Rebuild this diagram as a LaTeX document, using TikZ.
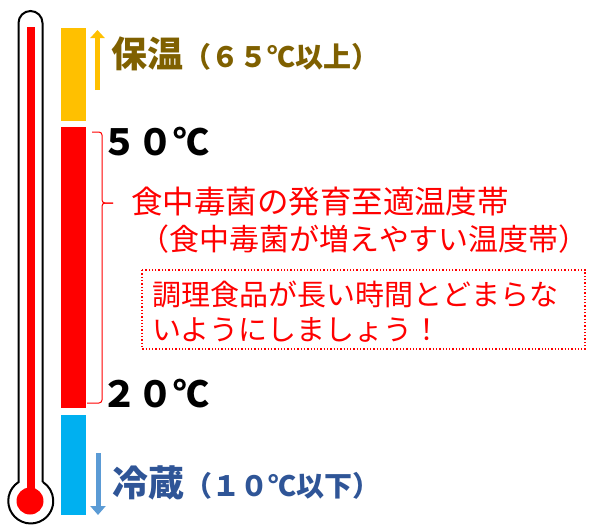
\documentclass[tikz,border=0pt]{standalone}
\usepackage{fontspec}
\newfontfamily\jp{Noto Sans CJK JP}
\usetikzlibrary{arrows.meta}
\definecolor{cyel}{HTML}{FFC000}
\definecolor{cred}{HTML}{FF0000}
\definecolor{cblue}{HTML}{00B0F0}
\definecolor{carrowblue}{HTML}{5B9BD5}
\definecolor{cbrown}{HTML}{7F6000}
\definecolor{cdarkblue}{HTML}{2F5597}
\begin{document}
\begin{tikzpicture}[x=1pt,y=-1pt,
  txt/.style={inner sep=0pt,outer sep=0pt,anchor=base west,font=\jp},
  tube/.style={draw=black,line width=2pt},
  bracestyle/.style={draw=cred,line width=1pt,rounded corners=3pt}
]
\useasboundingbox (0,0) rectangle (592,525);
% thermometer
\fill[cred] (27,27) rectangle (35,495);
\fill[cred] (30,501) circle[radius=13.5];
\draw[tube] (42.5,482.1) -- (42.5,23) arc[start angle=360,end angle=180,radius=12] -- (18.5,482.1)
  arc[start angle=237,end angle=-57,radius=22.5];
% bars
\fill[cyel] (61,28) rectangle (86,121);
\fill[cred] (61,127) rectangle (86,408);
\fill[cblue] (61,415) rectangle (86,515);
% arrows
\coordinate (ya) at (97.5,90);
\coordinate (yb) at (97.5,30);
\draw[cyel,line width=5pt,-{Triangle[length=8pt,width=14pt]}] (ya) -- (yb);
\coordinate (ba) at (98,453);
\coordinate (bb) at (98,515);
\draw[carrowblue,line width=5pt,-{Triangle[length=9pt,width=15pt]}] (ba) -- (bb);
% labels
\node[txt,text=cbrown] (hot) at (111,67.5) {\bfseries\fontsize{36}{36}\selectfont 保温\fontsize{28}{28}\selectfont （６５℃以上）};
\node[txt,text=cdarkblue] (cold) at (112,496) {\bfseries\fontsize{36}{36}\selectfont 冷蔵\fontsize{28}{28}\selectfont （１０℃以下）};
\node[txt] (t50) at (101,155) {\bfseries\fontsize{36}{36}\selectfont ５０℃};
\node[txt] (t20) at (101,407) {\bfseries\fontsize{36}{36}\selectfont ２０℃};
% brace
\coordinate (btop) at (92,132);
\coordinate (btip) at (113,203);
\coordinate (bbot) at (87,403);
\draw[bracestyle] (btop) -- (102,132) -- (102,203) -- (btip);
\draw[bracestyle] (btip) -- (102,203) -- (102,403) -- (bbot);
% red text
\node[txt,text=cred] (l1) at (131,213) {\fontsize{31.5}{31.5}\selectfont 食中毒菌の発育至適温度帯};
\node[txt,text=cred] (l2) at (139,250) {\fontsize{30}{30}\selectfont （食中毒菌が増えやすい温度帯）};
% dotted box
\draw[cred,line width=1.3pt,dotted] (142,270) rectangle (585,349);
\node[txt,text=cred] (n1) at (152,305) {\fontsize{29}{29}\selectfont 調理食品が長い時間とどまらな};
\node[txt,text=cred] (n2) at (152,340) {\fontsize{29}{29}\selectfont いようにしましょう！};
\end{tikzpicture}
\end{document}
